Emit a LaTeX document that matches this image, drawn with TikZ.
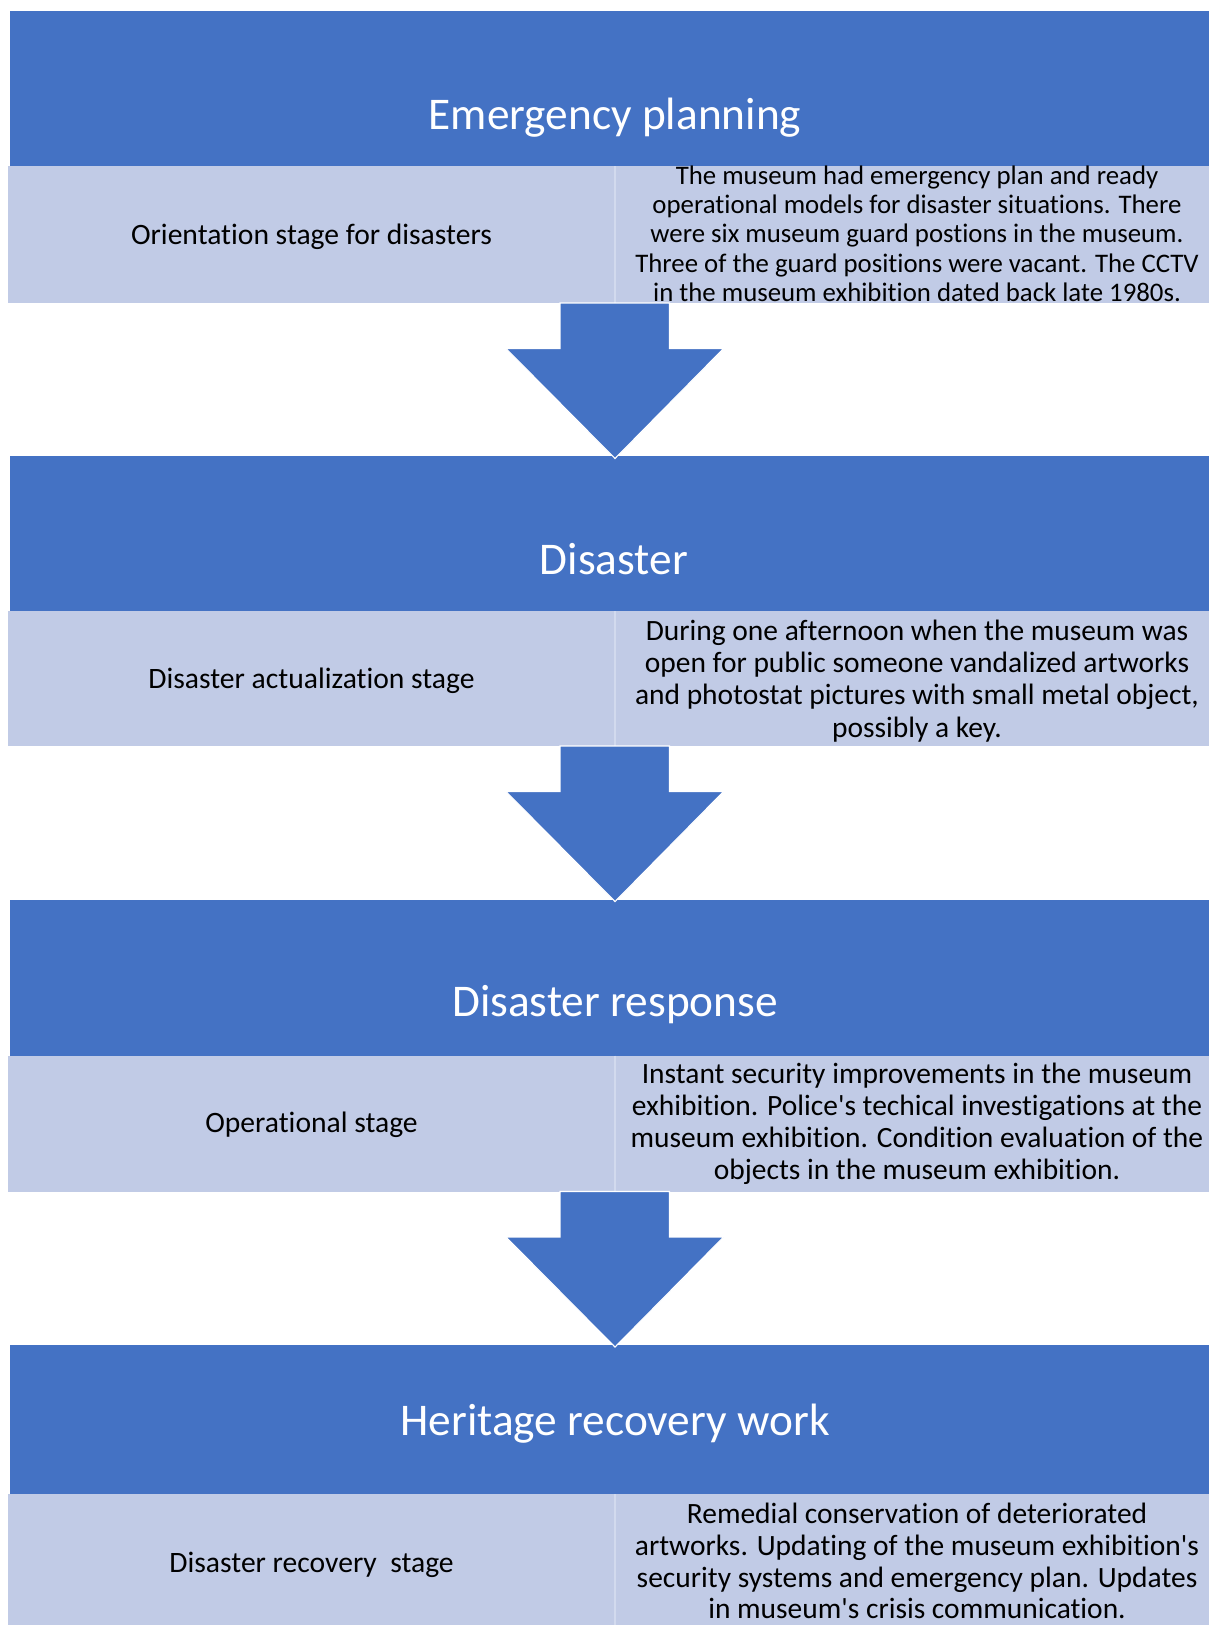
\documentclass[tikz,border=0pt]{standalone}
\usepackage{fontspec}
\setmainfont{Carlito}[Ligatures={NoCommon,NoContextual,NoRequired}]
\definecolor{hdrblue}{RGB}{68,114,196}
\definecolor{rowblue}{RGB}{193,203,230}
\definecolor{rowline}{RGB}{210,218,238}
\begin{document}
\begin{tikzpicture}[x=0.75pt,y=-0.75pt,
  hdrtext/.style={text=white, font=\fontsize{34}{40}\selectfont, anchor=base, inner sep=0pt},
  lefttext/.style={text=black, font=\fontsize{22.2}{27}\selectfont, anchor=base, inner sep=0pt},
  righttext/.style={text=black, anchor=base, inner sep=0pt},
  hdrfill/.style={fill=hdrblue},
  rowfill/.style={fill=rowblue},
  divline/.style={draw=rowline, line width=1.2pt},
  blockarrow/.style={fill=hdrblue, draw=white, line width=0.8pt, line join=miter}]
\useasboundingbox (0,0) rectangle (1209,1625);
\begin{scope}
\clip (0,0) rectangle (1209,1625);
% block 1
\fill[hdrfill] (10,11) rectangle (1225,166);
\fill[rowfill] (8,166) rectangle (1225,303);
\draw[divline] (615,166) -- (615,303);
% block 2
\fill[hdrfill] (10,456) rectangle (1225,611);
\fill[rowfill] (8,611) rectangle (1225,746);
\draw[divline] (615,611) -- (615,746);
% block 3
\fill[hdrfill] (10,900) rectangle (1225,1055.5);
\fill[rowfill] (8,1055.5) rectangle (1225,1191.5);
\draw[divline] (615,1055.5) -- (615,1191.5);
% block 4
\fill[hdrfill] (10,1344.5) rectangle (1225,1494);
\fill[rowfill] (8,1494) rectangle (1225,1640);
\draw[divline] (615,1494) -- (615,1640);
\end{scope}
% arrows
\coordinate (a1) at (615,303);
\coordinate (a2) at (615,746);
\coordinate (a3) at (615,1191.5);
\foreach \a in {a1,a2,a3}{
  \begin{scope}[shift={(\a)}]
    \filldraw[blockarrow] (-55,0) -- (54.5,0) -- (54.5,45.5) -- (108.5,45.5) -- (0,155.5) -- (-109,45.5) -- (-55,45.5) -- cycle;
  \end{scope}
}
% headers
\node[hdrtext] (h1) at (615,129) {Emergency planning};
\node[hdrtext] (h2) at (614,574) {Disaster};
\node[hdrtext] (h3) at (615,1016.7) {Disaster response};
\node[hdrtext] (h4) at (615,1435) {Heritage recovery work};
% left labels
\node[lefttext] (l1) at (311.5,244.5) {Orientation stage for disasters};
\node[lefttext] (l2) at (311.5,688.5) {Disaster actualization stage};
\node[lefttext] (l3) at (311.5,1132.5) {Operational stage};
\node[lefttext] (l4) at (311.5,1572) {Disaster recovery~~stage};
% right texts
\node[righttext, font=\fontsize{20.1}{22}\selectfont] (r1) at (917,184) {\begin{tabular}[t]{@{}c@{}}The museum had emergency plan and ready\\operational models for disaster situations. There\\were six museum guard postions in the museum.\\Three of the guard positions were vacant. The CCTV\\in the museum exhibition dated back late 1980s.\end{tabular}};
\node[righttext, font=\fontsize{22.1}{24.3}\selectfont] (r2) at (917,640) {\begin{tabular}[t]{@{}c@{}}During one afternoon when the museum was\\open for public someone vandalized artworks\\and photostat pictures with small metal object,\\possibly a key.\end{tabular}};
\node[righttext, font=\fontsize{22.1}{24.1}\selectfont] (r3) at (917,1083.3) {\begin{tabular}[t]{@{}c@{}}Instant security improvements in the museum\\exhibition. Police\textquotesingle s techical investigations at the\\museum exhibition. Condition evaluation of the\\objects in the museum exhibition.\end{tabular}};
\node[righttext, font=\fontsize{22.1}{23.9}\selectfont] (r4) at (917,1523.3) {\begin{tabular}[t]{@{}c@{}}Remedial conservation of deteriorated\\artworks. Updating of the museum exhibition\textquotesingle s\\security systems and emergency plan. Updates\\in museum\textquotesingle s crisis communication.\end{tabular}};
\end{tikzpicture}
\end{document}
